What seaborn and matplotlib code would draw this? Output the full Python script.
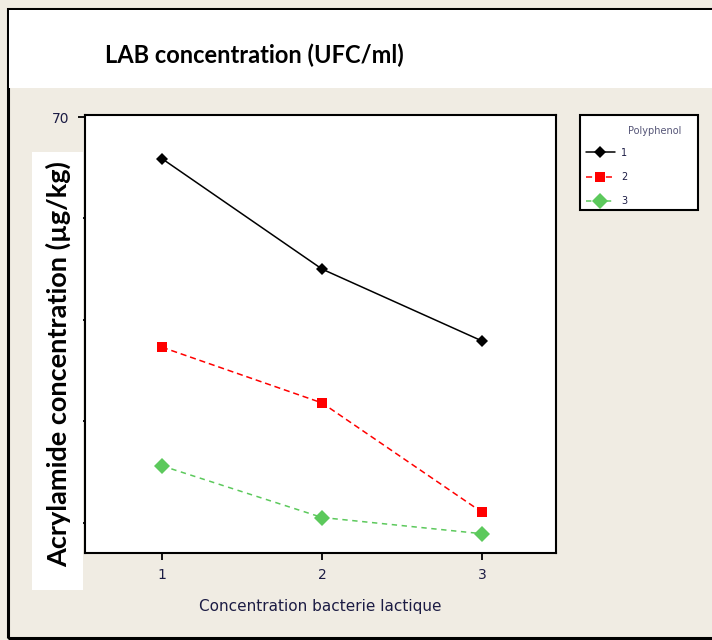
import matplotlib
matplotlib.use("Agg")
import matplotlib.pyplot as plt
from matplotlib.patches import Rectangle
import numpy as np
import pandas as pd
import seaborn as sns

# values
doses = [1, 2, 3]
poly1 = [65.9, 55.0, 47.9]
poly2 = [47.3, 41.8, 31.0]
poly3 = [35.6, 30.5, 28.9]
groups = ["1", "2", "3"]
y_ticks = [30, 40, 50, 60, 70]
# only the top label shows; the others sit under the white label box
y_tick_labels = ["", "", "", "", "70"]

df = pd.DataFrame({
    "dose": doses * 3,
    "acrylamide": poly1 + poly2 + poly3,
    "Polyphenol": [g for g in groups for _ in doses],
})

sns.set_style("white")

W, H = 712, 640
bg = "#f0ece3"
ink = "#1c1c44"


def box(x0, y0, x1, y1):
    # pixel box (top-left origin) -> figure fraction
    return (x0 / W, 1 - y1 / H), (x1 - x0) / W, (y1 - y0) / H


fig = plt.figure(figsize=(W / 100, H / 100), dpi=100, facecolor=bg)
ax = fig.add_axes([85 / W, 1 - 553 / H, 471 / W, 438 / H])
ax.set_facecolor("white")

palette = {"1": "black", "2": "#ff0000", "3": "#5cc95c"}
markers = {"1": "D", "2": "s", "3": "D"}
dashes = {"1": "", "2": (4, 2.5), "3": (3.5, 3)}

sns.lineplot(
    data=df, x="dose", y="acrylamide", hue="Polyphenol", style="Polyphenol",
    palette=palette, markers=markers, dashes=dashes, linewidth=1.1,
    markersize=6.5, markeredgewidth=0, ax=ax,
)
for line in ax.lines:
    if line.get_color() == "#5cc95c":
        line.set_markersize(8.5)

handles, labels = ax.get_legend_handles_labels()
ax.get_legend().remove()

ax.set_xlim(0.52, 3.46)
ax.set_ylim(27.0, 70.2)
ax.set_xticks(doses)
ax.set_yticks(y_ticks)
ax.set_yticklabels(y_tick_labels)
ax.tick_params(axis="both", direction="out", length=5, width=1.3, color="black",
               labelsize=10, labelcolor=ink, bottom=True, left=True, pad=6)
for s in ax.spines.values():
    s.set_color("black")
    s.set_linewidth(1.5)
ax.set_xlabel("Concentration bacterie lactique", fontsize=11, color=ink, labelpad=12)
ax.set_ylabel("")

# outer frame and white title band
xy, w, h = box(8, 9, 716, 638)
fig.patches.append(Rectangle(xy, w, h, transform=fig.transFigure, fill=False,
                             edgecolor="black", linewidth=2.2, zorder=0))
xy, w, h = box(9, 10, 712, 88)
fig.patches.append(Rectangle(xy, w, h, transform=fig.transFigure,
                             facecolor="white", edgecolor="none", zorder=1))
fig.text(105 / W, 1 - 55 / H, "LAB concentration (UFC/ml)", fontsize=17,
         fontweight="bold", family="Lato", va="center", ha="left", color="black")

# white box holding the y label
xy, w, h = box(32, 152, 83, 590)
fig.patches.append(Rectangle(xy, w, h, transform=fig.transFigure,
                             facecolor="white", edgecolor="none", zorder=1))
fig.text(58 / W, 1 - 364 / H, "Acrylamide concentration (\u00b5g/kg)", rotation=90,
         fontsize=19.5, fontweight="bold", family="Lato", va="center", ha="center",
         color="black", zorder=2)

# legend box
xy, w, h = box(580, 115, 698, 210)
fig.patches.append(Rectangle(xy, w, h, transform=fig.transFigure, facecolor="white",
                             edgecolor="black", linewidth=1.5, zorder=1))
fig.text(628 / W, 1 - 131 / H, "Polyphenol", fontsize=7, color="#555577",
         va="center", ha="left", zorder=3)
leg = fig.legend(handles, labels, loc="upper left", bbox_to_anchor=(581 / W, 1 - 143 / H),
                 frameon=False, fontsize=7, handlelength=3.0, labelspacing=1.45,
                 handletextpad=0.6, borderpad=0)
for t in leg.get_texts():
    t.set_color(ink)

fig.savefig("out.png", dpi=100, facecolor=bg)
